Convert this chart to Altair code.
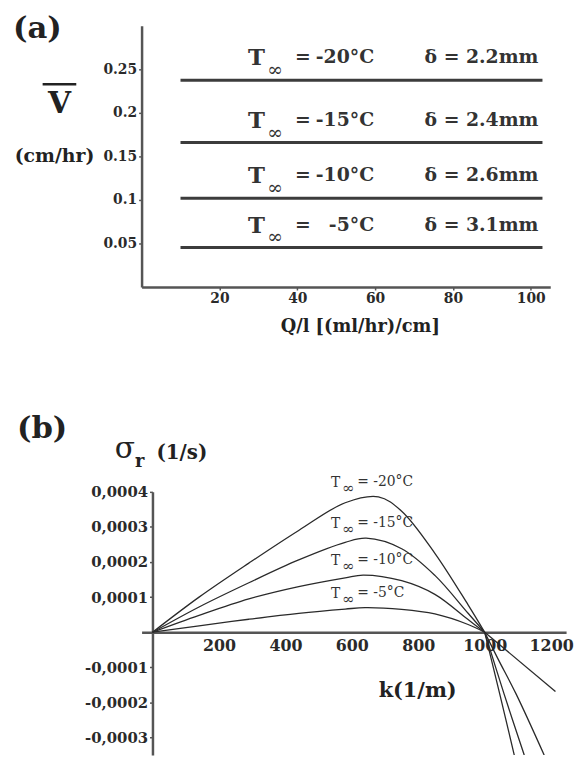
import altair as alt
import pandas as pd

FONT = "DejaVu Serif"
INK = "#333333"
AXIS = "#555555"

# ---------------- panel (a) data ----------------
flow_start = [10, 10, 10, 10]
flow_end = [103, 103, 103, 103]
velocity = [0.2375, 0.166, 0.102, 0.0455]
temp_a = ["-20°C", "-15°C", "-10°C", "-5°C"]
delta_a = ["δ = 2.2mm", "δ = 2.4mm", "δ = 2.6mm", "δ = 3.1mm"]
a_xticks = [20, 40, 60, 80, 100]
a_yticks = [0.05, 0.1, 0.15, 0.2, 0.25]

# ---------------- panel (b) data ----------------
temps_b = ["-20°C", "-15°C", "-10°C", "-5°C"]
k_20 = [0, 140, 290, 440, 580, 680, 750, 850, 950, 1000, 1045, 1089]
s_20 = [0, 0.0001, 0.000197, 0.00029, 0.000369, 0.000386, 0.000345, 0.000225, 0.000078, 0, -0.000175, -0.00035]
k_15 = [0, 140, 290, 440, 580, 643, 750, 850, 950, 1000, 1058, 1119]
s_15 = [0, 0.000072, 0.000141, 0.000206, 0.000256, 0.000268, 0.000238, 0.000162, 0.000054, 0, -0.000175, -0.00035]
k_10 = [0, 140, 290, 440, 580, 634, 750, 850, 950, 1000, 1040, 1094, 1179]
s_10 = [0, 0.000048, 0.000095, 0.00013, 0.000155, 0.000163, 0.000147, 0.000108, 0.000036, 0, -0.000076, -0.000175, -0.00035]
k_5 = [0, 140, 290, 440, 580, 640, 750, 850, 950, 1000, 1213]
s_5 = [0, 0.000018, 0.000037, 0.000054, 0.000066, 0.00007, 0.000065, 0.000052, 0.000022, 0, -0.000169]
b_xticks = [200, 400, 600, 800, 1000, 1200]
b_yticks = [-0.0003, -0.0002, -0.0001, 0.0001, 0.0002, 0.0003, 0.0004]

# ---------------- tables ----------------
df_a = pd.DataFrame({"q0": flow_start, "q1": flow_end, "v": velocity,
                     "temp": temp_a, "delta": delta_a})

series_k = [k_20, k_15, k_10, k_5]
series_s = [s_20, s_15, s_10, s_5]
rows = []
for name, ks, ss in zip(temps_b, series_k, series_s):
    for k, s in zip(ks, ss):
        # each curve drawn as two smooth pieces joined at the neutral point (s = 0)
        if s >= 0:
            rows.append({"series": name, "piece": name + " up", "k": k, "s": s})
        if s <= 0 and k > 0:
            rows.append({"series": name, "piece": name + " down", "k": k, "s": s})
df_b = pd.DataFrame(rows)
df_blab = pd.DataFrame({"series": temps_b, "peak": [max(s) for s in series_s],
                        "txt": ["= " + t for t in temps_b]})


def one(t):
    return pd.DataFrame({"t": [t]})


# ---------------- panel (a) ----------------
xa = alt.X("q0:Q", scale=alt.Scale(domain=[0, 105], nice=False),
           axis=alt.Axis(values=a_xticks, format="d", title=None, grid=False,
                         labelFontSize=14, labelPadding=2))
ya = alt.Y("v:Q", scale=alt.Scale(domain=[0, 0.30], nice=False),
           axis=alt.Axis(values=a_yticks, format="~g", title=None, grid=False,
                         labelFontSize=14, labelPadding=2))

a_lines = alt.Chart(df_a).mark_rule(strokeWidth=3, color="#3c3c3c").encode(
    x=xa, x2="q1:Q", y=ya)
a_T = alt.Chart(df_a).mark_text(text="T", font=FONT, fontSize=23, fontWeight="bold",
                                color=INK, align="center", baseline="middle", dy=-22).encode(
    x=alt.value(116), y=ya)
a_inf = alt.Chart(df_a).mark_text(text="∞", font=FONT, fontSize=19, color=INK,
                                  align="center", baseline="middle", dy=-10).encode(
    x=alt.value(135), y=ya)
a_eq = alt.Chart(df_a).mark_text(text="=", font=FONT, fontSize=19, fontWeight="bold",
                                 color=INK, align="left", baseline="middle", dy=-23).encode(
    x=alt.value(155), y=ya)
a_temp = alt.Chart(df_a).mark_text(font=FONT, fontSize=19, fontWeight="bold", color=INK,
                                   align="right", baseline="middle", dy=-23).encode(
    x=alt.value(235), y=ya, text="temp:N")
a_delta = alt.Chart(df_a).mark_text(font=FONT, fontSize=19, fontWeight="bold", color=INK,
                                    align="left", baseline="middle", dy=-23).encode(
    x=alt.value(286), y=ya, text="delta:N")
a_title = alt.Chart(one("(a)")).mark_text(font=FONT, fontSize=31, fontWeight="bold",
                                          color="#222", align="left", baseline="middle").encode(
    x=alt.value(-130), y=alt.value(3), text="t:N")
a_V = alt.Chart(one("V")).mark_text(font=FONT, fontSize=30, fontWeight="bold",
                                    color="#222", align="center", baseline="middle").encode(
    x=alt.value(-83), y=alt.value(79), text="t:N")
a_bar = alt.Chart(one("bar")).mark_rule(strokeWidth=2.5, color="#222").encode(
    x=alt.value(-100), x2=alt.value(-66), y=alt.value(59))
a_unit = alt.Chart(one("(cm/hr)")).mark_text(font=FONT, fontSize=19, fontWeight="bold",
                                             color="#222", align="center", baseline="middle").encode(
    x=alt.value(-88), y=alt.value(132), text="t:N")
a_xt = alt.Chart(one("Q/l [(ml/hr)/cm]")).mark_text(font=FONT, fontSize=18, fontWeight="bold",
                                                     color="#222", align="center", baseline="middle").encode(
    x=alt.value(221), y=alt.value(304), text="t:N")

panel_a = alt.layer(a_lines, a_T, a_inf, a_eq, a_temp, a_delta, a_title, a_V, a_bar,
                    a_unit, a_xt).properties(width=413, height=264)

# ---------------- panel (b) ----------------
xb = alt.X("k:Q", scale=alt.Scale(domain=[-33, 1245], nice=False, zero=False),
           axis=alt.Axis(values=b_xticks, format="d", title=None, grid=False,
                         offset=-124, labelFontSize=16, labelPadding=5, ticks=False))
yb = alt.Y("s:Q", scale=alt.Scale(domain=[-0.00035, 0.0004], nice=False),
           axis=alt.Axis(values=b_yticks, title=None, grid=False, offset=-11,
                         labelFontSize=15, labelPadding=2,
                         labelExpr="replace(replace(format(datum.value, '.4f'), '.', ','), '\u2212', '-')"))

b_lines = alt.Chart(df_b).mark_line(interpolate="catmull-rom", clip=True, strokeWidth=1.3,
                                    color="#2a2a2a").encode(
    x=xb, y=yb, detail="piece:N", order="k:Q")

ybl = alt.Y("peak:Q", scale=alt.Scale(domain=[-0.00035, 0.0004], nice=False))
b_T = alt.Chart(df_blab).mark_text(text="T", font=FONT, fontSize=14, color=INK,
                                   align="center", baseline="middle", dy=-14).encode(
    x=alt.value(196), y=ybl)
b_inf = alt.Chart(df_blab).mark_text(text="∞", font=FONT, fontSize=15, color=INK,
                                     align="center", baseline="middle", dy=-9).encode(
    x=alt.value(209), y=ybl)
b_txt = alt.Chart(df_blab).mark_text(font=FONT, fontSize=14, color=INK,
                                     align="left", baseline="middle", dy=-15).encode(
    x=alt.value(218), y=ybl, text="txt:N")
b_title = alt.Chart(one("(b)")).mark_text(font=FONT, fontSize=31, fontWeight="bold",
                                          color="#222", align="left", baseline="middle").encode(
    x=alt.value(-126), y=alt.value(-63), text="t:N")
b_sig = alt.Chart(one("σ")).mark_text(font=FONT, fontSize=30, color="#222",
                                      align="center", baseline="middle").encode(
    x=alt.value(-17), y=alt.value(-43), text="t:N")
b_r = alt.Chart(one("r")).mark_text(font=FONT, fontSize=18, fontWeight="bold", color="#222",
                                    align="center", baseline="middle").encode(
    x=alt.value(-2), y=alt.value(-30), text="t:N")
b_unit = alt.Chart(one("(1/s)")).mark_text(font=FONT, fontSize=20, fontWeight="bold",
                                           color="#222", align="left", baseline="middle").encode(
    x=alt.value(15), y=alt.value(-39), text="t:N")
b_xt = alt.Chart(one("k(1/m)")).mark_text(font=FONT, fontSize=21, fontWeight="bold",
                                          color="#222", align="center", baseline="middle").encode(
    x=alt.value(279), y=alt.value(201), text="t:N")

panel_b = alt.layer(b_lines, b_T, b_inf, b_txt, b_title, b_sig, b_r, b_unit,
                    b_xt).properties(width=429, height=266)

chart = alt.vconcat(panel_a, panel_b, spacing=207, bounds="flush").properties(
    padding={"left": 5, "top": 1, "right": 0, "bottom": 0}
).configure_view(stroke=None).configure_axis(
    domainColor=AXIS, domainWidth=2.5, tickColor=AXIS, tickSize=3, tickWidth=1.5,
    labelFont=FONT, labelFontWeight="bold", labelColor="#2a2a2a"
)

chart.save("out.html", embed_options={"renderer": "svg", "actions": False})
